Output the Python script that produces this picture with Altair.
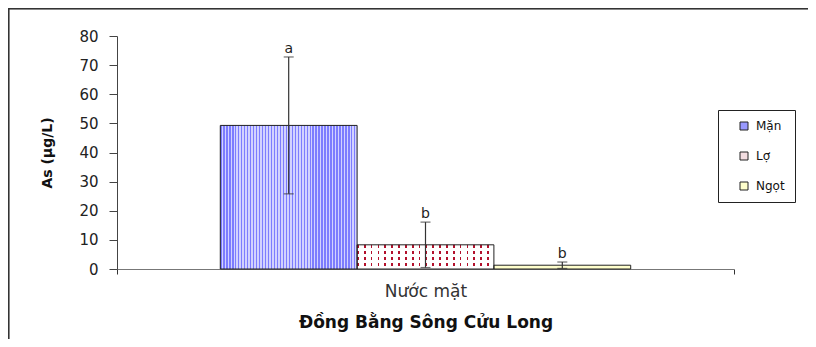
import altair as alt
import pandas as pd

# ---- data ----
category = ["Nước mặt"]
series = ["Mặn", "Lợ", "Ngọt"]
means = [49.3, 8.3, 1.3]
sds = [23.5, 7.8, 1.1]
letters = ["a", "b", "b"]
y_ticks = [0, 10, 20, 30, 40, 50, 60, 70, 80]
legend_colors = ["#9999ff", "#f3dde1", "#ffffcc"]

df = pd.DataFrame({
    "cat": category * len(series),
    "series": series,
    "mean": means,
    "lo": [m - s for m, s in zip(means, sds)],
    "hi": [m + s for m, s in zip(means, sds)],
    "letter": letters,
})

FONT = "DejaVu Sans"


def stripes(n, c1, c2, frac, vertical=False):
    stops = []
    for i in range(n):
        a = i / n
        b = min((i + frac) / n, 1)
        c = min((i + 1) / n, 1)
        stops += [
            alt.GradientStop(offset=a, color=c1),
            alt.GradientStop(offset=b, color=c1),
            alt.GradientStop(offset=b, color=c2),
            alt.GradientStop(offset=c, color=c2),
        ]
    if vertical:
        return alt.Gradient(gradient="linear", stops=stops, x1=0, x2=0, y1=0, y2=1)
    return alt.Gradient(gradient="linear", stops=stops, x1=0, x2=1, y1=0, y2=0)


X_AXIS = alt.Axis(
    labelAngle=0, tickBand="extent", tickSize=5, labelPadding=9,
    labelFont=FONT, labelFontSize=17, labelColor="#333",
    domainColor="#777", tickColor="#333",
    titleFont=FONT, titleFontSize=17, titleFontWeight="bold", titleColor="#111",
    titleY=53, titleBaseline="middle",
)
Y_AXIS = alt.Axis(
    values=y_ticks, grid=False, tickSize=8, labelPadding=11, labelOverlap=False,
    labelFont=FONT, labelFontSize=15, labelColor="#222",
    domainColor="#444", tickColor="#444",
    titleFont=FONT, titleFontSize=14, titleFontWeight="bold", titleColor="#111",
    titleX=-70, titleY=116.5, titleAngle=270, titleBaseline="middle", titleAlign="center",
)
X_SCALE = alt.Scale(paddingInner=0, paddingOuter=0)
Y_SCALE = alt.Scale(domain=[0, 80], nice=False)


def xe():
    return alt.X("cat:N", title="Đồng Bằng Sông Cửu Long", scale=X_SCALE, axis=X_AXIS)


def ye(field):
    return alt.Y(field + ":Q", title="As (µg/L)", scale=Y_SCALE, axis=Y_AXIS)


def xo():
    return alt.XOffset("series:N", sort=series,
                       scale=alt.Scale(paddingInner=0, paddingOuter=0.755))


base = alt.Chart(df)

bars = base.mark_bar(strokeWidth=0).encode(
    x=xe(), xOffset=xo(), y=ye("mean"),
    color=alt.Color(
        "series:N", sort=series,
        scale=alt.Scale(domain=series, range=legend_colors),
        legend=alt.Legend(
            title=None, orient="none", legendX=601, legendY=74,
            strokeColor="#222", fillColor="white", padding=10,
            symbolType="square", symbolSize=64, symbolStrokeColor="#222",
            symbolStrokeWidth=1, symbolOffset=10, labelOffset=6,
            labelFont=FONT, labelFontSize=12, labelColor="#111", rowPadding=18,
        ),
    ),
)

man = base.transform_filter(alt.datum.series == "Mặn").mark_bar(
    fill=stripes(46, "#7c7cff", "#d2d2ff", 0.45)
).encode(x=xe(), xOffset=xo(), y=ye("mean"))

lo_cols = base.transform_filter(alt.datum.series == "Lợ").mark_bar(
    fill=stripes(20, "#b3102c", "#ffffff", 0.25)
).encode(x=xe(), xOffset=xo(), y=ye("mean"))

lo_mask = base.transform_filter(alt.datum.series == "Lợ").mark_bar(
    fill=stripes(4, "rgba(255,255,255,0)", "#ffffff", 0.5, vertical=True)
).encode(x=xe(), xOffset=xo(), y=ye("mean"))

outline = base.mark_bar(fillOpacity=0, stroke="#222", strokeWidth=1).encode(
    x=xe(), xOffset=xo(), y=ye("mean")
)

err = base.mark_rule(color="#333", strokeWidth=1.2).encode(
    x=xe(), xOffset=xo(), y=ye("lo"), y2="hi:Q"
)
cap_hi = base.mark_tick(color="#333", size=10, thickness=1.2, orient="horizontal").encode(
    x=xe(), xOffset=xo(), y=ye("hi")
)
cap_lo = base.mark_tick(color="#333", size=10, thickness=1.2, orient="horizontal").encode(
    x=xe(), xOffset=xo(), y=ye("lo")
)
txt = base.mark_text(font=FONT, fontSize=14, color="#222", baseline="alphabetic", dy=-4).encode(
    x=xe(), xOffset=xo(), y=ye("hi"), text="letter:N"
)

frame_top = base.mark_rule(color="#333", strokeWidth=1.5).encode(
    x=alt.value(-108.5), x2=alt.value(691), y=alt.value(-27.5)
)
frame_left = base.mark_rule(color="#333", strokeWidth=1.5).encode(
    x=alt.value(-108.5), y=alt.value(-27.5), y2=alt.value(303)
)

chart = alt.layer(
    bars, man, lo_cols, lo_mask, outline, err, cap_hi, cap_lo, txt, frame_top, frame_left
).properties(
    width=617, height=233,
    autosize=alt.AutoSizeParams(type="none"),
    padding={"left": 109, "top": 28, "right": 74, "bottom": 70},
).configure_view(stroke=None)

chart.save("out.html", embed_options={"renderer": "svg", "actions": False})
